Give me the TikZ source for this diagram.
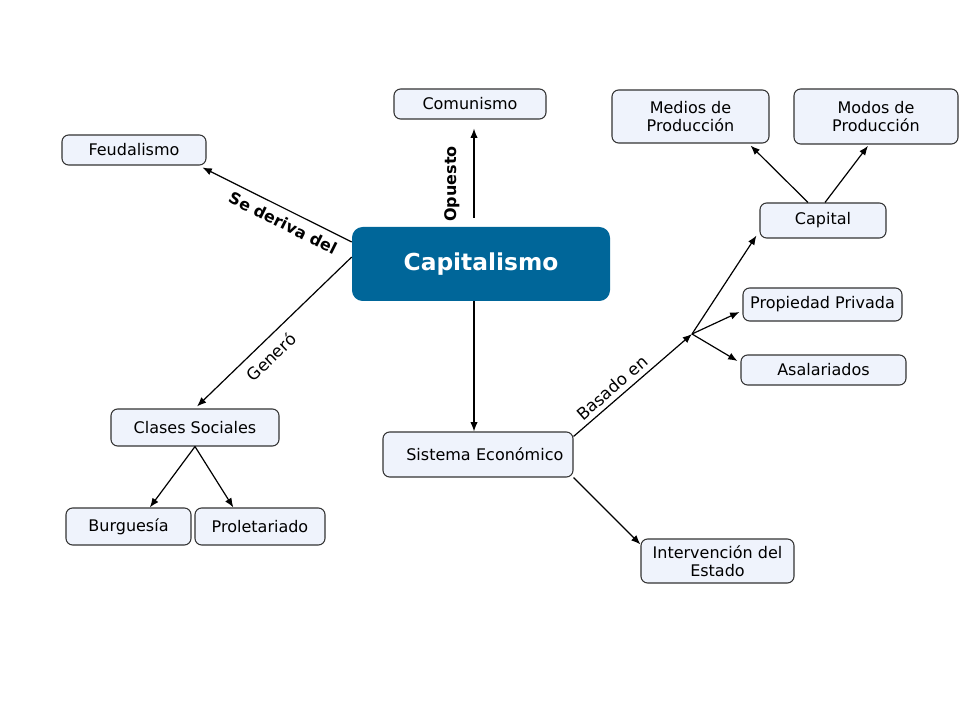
\documentclass[tikz,border=0pt]{standalone}
\usepackage{fontspec}
\setmainfont{DejaVu Sans}
\usetikzlibrary{arrows.meta}
\definecolor{boxfill}{HTML}{EFF3FC}
\definecolor{boxdraw}{HTML}{333333}
\definecolor{capblue}{HTML}{006699}
\tikzset{
  cbox/.style={draw=boxdraw, line width=0.8pt, fill=boxfill, rounded corners=5pt,
    inner sep=0pt, align=center, font=\fontsize{12}{13.5}\selectfont},
  mainbox/.style={fill=capblue, rounded corners=8pt, inner sep=0pt, align=center,
    text=white, font=\fontsize{17.5}{20}\selectfont\bfseries},
  conn/.style={line width=0.9pt, -{Latex[length=7pt,width=5.5pt]}},
  lbl/.style={inner sep=0pt, font=\fontsize{12.5}{14}\selectfont},
  blbl/.style={inner sep=0pt, font=\fontsize{12}{14}\selectfont\bfseries},
}
\begin{document}
\begin{tikzpicture}[x=0.75pt,y=-0.75pt]
\useasboundingbox (0,0) rectangle (960,720);
% nodes
\node[cbox, minimum width=114pt, minimum height=22.5pt] (com) at (470,104) {Comunismo};
\node[cbox, minimum width=117.75pt, minimum height=39.75pt] (med) at (690.5,116.5) {Medios de\\Producción};
\node[cbox, minimum width=123pt, minimum height=41.25pt] (mod) at (876,116.5) {Modos de\\Producción};
\node[cbox, minimum width=108pt, minimum height=22.5pt] (feu) at (134,150) {Feudalismo};
\node[mainbox, minimum width=193.5pt, minimum height=55.5pt] (cap) at (481,264) {Capitalismo};
\node[cbox, minimum width=94.5pt, minimum height=26.25pt] (capl) at (823,220.5) {Capital};
\node[cbox, minimum width=119.25pt, minimum height=24.75pt] (prop) at (822.5,304.5) {Propiedad Privada};
\node[cbox, minimum width=123.75pt, minimum height=22.5pt] (asal) at (823.5,370) {Asalariados};
\node[cbox, minimum width=126pt, minimum height=27.75pt] (cls) at (195,427.5) {Clases Sociales};
\node[cbox, minimum width=142.5pt, minimum height=33.75pt, text width=128pt, align=right] (sis) at (478,454.5) {Sistema Económico};
\node[cbox, minimum width=93.75pt, minimum height=27.75pt] (bur) at (128.5,526.5) {Burguesía};
\node[cbox, minimum width=97.5pt, minimum height=27.75pt] (pro) at (260,526.5) {Proletariado};
\node[cbox, minimum width=114.75pt, minimum height=33pt] (int) at (717.5,561) {Intervención del\\Estado};
\coordinate (j) at (692,334);
% connectors
\draw[conn] ([xshift=-5.25pt,yshift=6.75pt]cap.north) -- ([xshift=3pt,yshift=-6.75pt]com.south);
\draw[conn] ([yshift=16.5pt]cap.west) -- ([xshift=-3pt,yshift=-1.5pt]feu.south east);
\draw[conn] ([yshift=5.25pt]cap.west) -- ([xshift=1.5pt,yshift=1.5pt]cls.north);
\draw[conn] ([xshift=-5.25pt]cap.south) -- ([xshift=-3pt]sis.north);
\draw[conn] ([yshift=-3.75pt]sis.north east) -- (j);
\draw[conn] (j) -- ([xshift=-2.25pt,yshift=2.25pt]capl.south west);
\draw[conn] (j) -- ([xshift=-2.25pt,yshift=-5.6pt]prop.west);
\draw[conn] (j) -- ([xshift=-2.25pt,yshift=6.75pt]asal.west);
\draw[conn] ([xshift=-11.25pt]capl.north) -- ([xshift=-14.25pt,yshift=-1.5pt]med.south east);
\draw[conn] ([xshift=1.5pt]capl.north) -- ([xshift=-6pt,yshift=-1pt]mod.south);
\draw[conn] (cls.south) -- ([xshift=16pt]bur.north);
\draw[conn] (cls.south) -- ([xshift=-20pt]pro.north);
\draw[conn] (sis.south east) -- ([yshift=-4.5pt]int.north west);
% labels
\node[blbl, rotate=90] (lop) at (452,184) {Opuesto};
\node[blbl, rotate=-26.6] (lse) at (283,223) {Se deriva del};
\node[lbl, rotate=44] (lge) at (271,357) {Generó};
\node[lbl, rotate=41] (lba) at (612,388) {Basado en};
\end{tikzpicture}
\end{document}
